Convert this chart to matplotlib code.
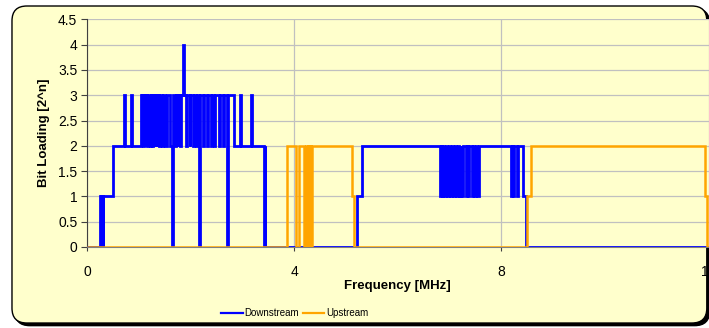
import numpy as np
import matplotlib
matplotlib.use('Agg')
import matplotlib.pyplot as plt
from matplotlib.patches import FancyBboxPatch
from matplotlib.lines import Line2D
from matplotlib.ticker import FormatStrFormatter

plt.rcParams['font.family'] = ['Liberation Sans', 'DejaVu Sans']

# Bit loading per tone band: each run starts at the given frequency (MHz)
# and holds that bit value until the next start (last run ends at 12 MHz)
ds_start = [
    0.00, 0.25, 0.27, 0.28, 0.30, 0.31, 0.50,
    0.72, 0.74, 0.85, 0.87,
    1.04, 1.06, 1.07, 1.09, 1.10, 1.13, 1.14, 1.16, 1.18, 1.21,
    1.23, 1.26, 1.28, 1.31, 1.32, 1.35, 1.36, 1.39, 1.40, 1.44,
    1.47, 1.51, 1.54, 1.60, 1.64, 1.66, 1.70, 1.71, 1.75, 1.76,
    1.80, 1.81, 1.86, 1.88, 1.92, 1.93, 1.98, 1.99, 2.04, 2.06,
    2.10, 2.12, 2.16, 2.19, 2.24, 2.26, 2.32, 2.34, 2.40, 2.41,
    2.46, 2.48, 2.54, 2.56, 2.62, 2.64, 2.70, 2.73, 2.84, 2.96,
    2.98, 3.16, 3.18, 3.42, 3.43, 3.44, 5.22, 5.31,
    6.81, 6.83, 6.85, 6.88, 6.90, 6.93, 6.95, 6.98, 7.00, 7.04,
    7.07, 7.10, 7.12, 7.16, 7.18, 7.22, 7.23, 7.26, 7.32, 7.34,
    7.36, 7.38, 7.43, 7.46, 7.48, 7.51, 7.53, 7.57,
    8.18, 8.20, 8.23, 8.25, 8.30, 8.32, 8.41, 8.47,
]
ds_bits = [
    0, 1, 0, 1, 0, 1, 2,
    3, 2, 3, 2,
    3, 2, 3, 2, 3, 2, 3, 2, 3, 2,
    3, 2, 3, 2, 3, 2, 3, 2, 3, 2,
    3, 2, 3, 2, 0, 3, 2, 3, 2, 3,
    2, 3, 4, 3, 2, 3, 2, 3, 2, 3,
    2, 3, 0, 3, 2, 3, 2, 3, 2, 3,
    2, 3, 2, 3, 2, 3, 0, 3, 2, 3,
    2, 3, 2, 0, 2, 0, 1, 2,
    1, 2, 1, 2, 1, 2, 1, 2, 1, 2,
    1, 2, 1, 2, 1, 2, 1, 2, 1, 2,
    1, 2, 1, 2, 1, 2, 1, 2,
    1, 2, 1, 2, 1, 2, 1, 0,
]

us_start = [0.00, 3.87, 4.04, 4.10, 4.18, 4.23, 4.25, 4.27, 4.29,
            4.31, 4.33, 4.35, 5.11, 5.15, 8.50, 8.58, 11.93, 11.97]
us_bits = [0, 2, 0, 2, 0, 2, 0, 2, 0, 2, 0, 2, 1, 0, 1, 2, 1, 0]

f_max = 12.0
x_ticks = [0, 4, 8, 12]
y_ticks = np.arange(0, 4.51, 0.5)

bg = '#FFFFCC'
blue = '#0000FF'
orange = '#FFA500'

fig = plt.figure(figsize=(7.09, 3.28), dpi=100)
fig.patch.set_facecolor('white')

# rounded chart frame with a drop shadow
asp = 709 / 328
shadow = FancyBboxPatch((0.0169 + 0.004, 0.0152 - 0.008), 0.980, 0.9665,
                        boxstyle='round,pad=0,rounding_size=0.021',
                        mutation_aspect=asp, transform=fig.transFigure,
                        facecolor='black', edgecolor='black', zorder=-10)
frame = FancyBboxPatch((0.0169, 0.0152), 0.980, 0.9665,
                       boxstyle='round,pad=0,rounding_size=0.021',
                       mutation_aspect=asp, transform=fig.transFigure,
                       facecolor=bg, edgecolor='black', linewidth=1.0, zorder=-9)
fig.patches.extend([shadow, frame])

ax = fig.add_axes([0.1227, 0.247, 0.8767, 0.694])
ax.set_facecolor(bg)

ax.stairs(ds_bits, ds_start + [f_max], baseline=None, color=blue,
          linewidth=2.0, zorder=3)
ax.stairs(us_bits, us_start + [f_max], baseline=None, color=orange,
          linewidth=1.8, zorder=4)

ax.set_xlim(0, f_max)
ax.set_ylim(0, 4.5)
ax.set_xticks(x_ticks)
ax.set_yticks(y_ticks)
ax.yaxis.set_major_formatter(FormatStrFormatter('%g'))
ax.grid(True, color='#C0C0C0', linewidth=0.9)
ax.set_axisbelow(True)
for s in ['top', 'right']:
    ax.spines[s].set_visible(False)
ax.spines['left'].set_color('#404040')
ax.spines['bottom'].set_color('#808080')
ax.tick_params(axis='y', length=4, width=0.8, color='#404040', pad=3, labelsize=10)
ax.tick_params(axis='x', length=3, width=0.8, color='#404040', pad=10, labelsize=10)

ax.set_xlabel('Frequency [MHz]', fontsize=9.5, fontweight='bold', labelpad=1)
ax.set_ylabel('Bit Loading [2^n]', fontsize=9.5, fontweight='bold', labelpad=6)

handles = [Line2D([], [], color=blue, lw=1.6),
           Line2D([], [], color=orange, lw=1.6)]
fig.legend(handles, ['Downstream', 'Upstream'], loc='center',
           bbox_to_anchor=(0.416, 0.046), ncol=2, frameon=False, fontsize=7,
           handlelength=2.2, handletextpad=0.2, columnspacing=0.4)

fig.savefig('out.png', dpi=100)
